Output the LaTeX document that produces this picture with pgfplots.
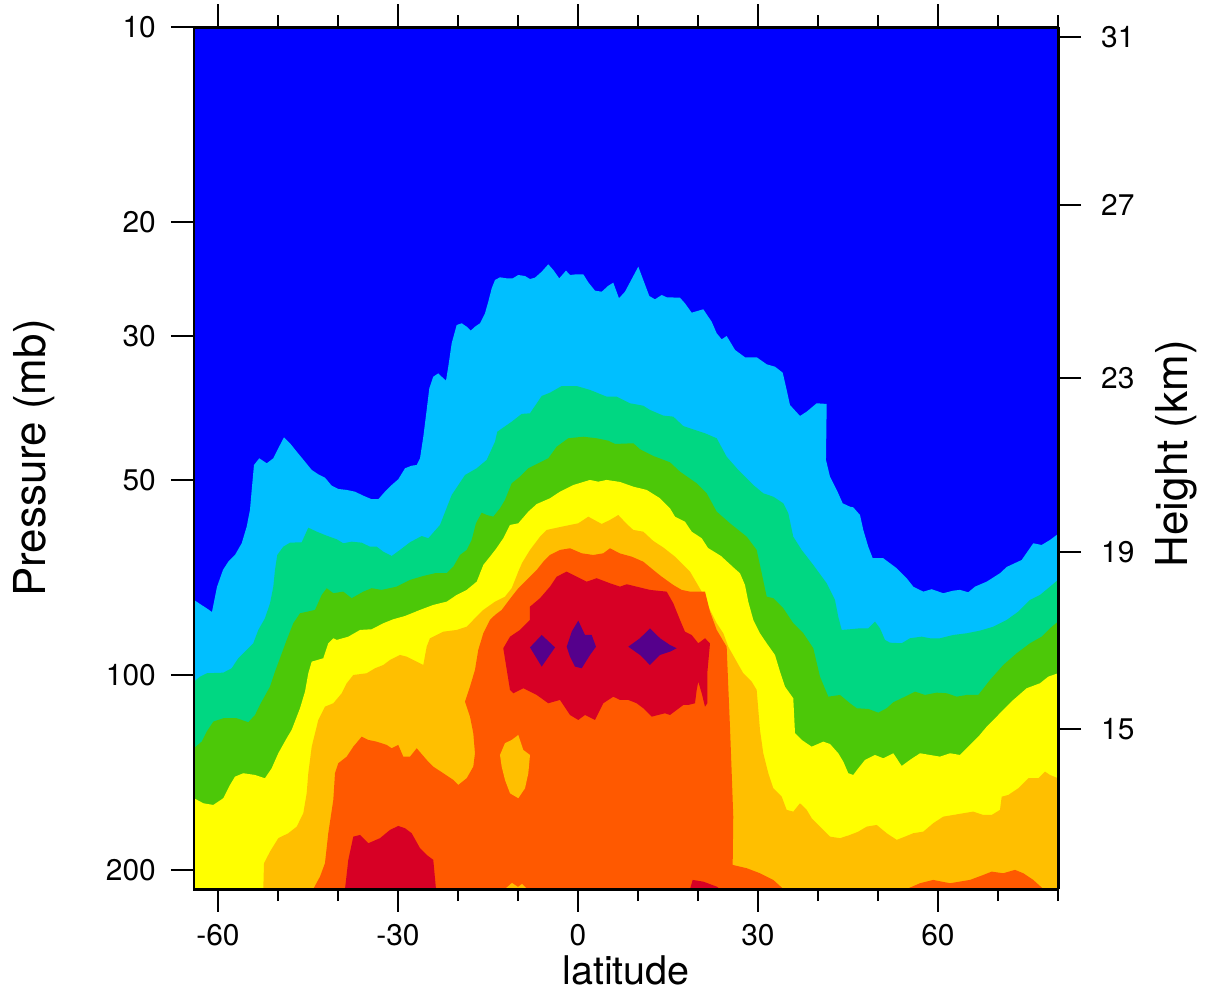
\documentclass[border=0pt]{standalone}
\usepackage{fontspec}
\setmainfont{TeX Gyre Heros}
\usepackage{pgfplots}
\pgfplotsset{compat=1.18}
\definecolor{cblue}{RGB}{0,0,255}
\definecolor{clblue}{RGB}{0,191,255}
\definecolor{cteal}{RGB}{0,215,130}
\definecolor{cgreen}{RGB}{76,200,8}
\definecolor{cyellow}{RGB}{255,255,0}
\definecolor{corange}{RGB}{255,191,0}
\definecolor{cored}{RGB}{255,89,0}
\definecolor{cred}{RGB}{215,0,37}
\definecolor{cpurple}{RGB}{85,0,140}
\begin{document}
\begin{tikzpicture}
\path[use as bounding box] (-3.88,-2.02) rectangle (20.38,17.78);
\begin{axis}[
  at={(0,0)}, anchor=south west, scale only axis,
  width=17.28cm, height=17.24cm,
  xmin=-64, xmax=80, ymode=log, ymin=10, ymax=214, y dir=reverse,
  tick align=outside, major tick length=0.46cm, minor tick length=0.24cm,
  tick style={black, line width=1.1pt},
  axis line style={line width=1.7pt},
  tick label style={font=\fontsize{17}{20}\selectfont},
  label style={font=\fontsize{25}{30}\selectfont},
  axis on top,
  xtick={-60,-30,0,30,60}, xticklabels={-60,-30,0,30,60},
  minor xtick={-50,-40,-20,-10,10,20,40,50,70,80},
  xtick pos=both,
  ytick={10,20,30,50,100,200}, yticklabels={10,20,30,50,100,200},
  minor ytick={}, ytick pos=left,
  yticklabel style={xshift=-0.18cm},
  xticklabel style={yshift=-0.12cm},
  xlabel={latitude}, ylabel={Pressure (mb)},
  xlabel style={at={(axis description cs:0.5,-0.1102)}, anchor=base, inner sep=0pt, font=\fontsize{22.5}{27}\selectfont},
  ylabel style={at={(axis description cs:-0.185,0.5)}, anchor=center},
]
% background
\addplot[fill=cblue, draw=none] coordinates {(-64,10)(80,10)(80,214)(-64,214)};
% light blue
\addplot[fill=clblue, draw=none] coordinates {(-64,76.61)(-62.0,78.82)(-61.0,79.95)(-60.17,73.16)(-59.17,68.86)(-58.28,66.87)(-57.17,65.30)(-56.05,62.64)(-55.22,59.05)(-54.67,55.64)(-54.38,51.82)(-54.0,47.42)(-53.12,46.31)(-51.88,47.14)(-50.78,46.31)(-49.95,44.69)(-49.0,42.98)(-48.0,43.90)(-46.88,45.23)(-45.5,46.87)(-44.38,48.27)(-43.28,49.02)(-42.17,49.61)(-41.05,51.04)(-39.95,51.64)(-38.55,51.82)(-37.17,52.14)(-35.78,52.89)(-34.38,53.56)(-33.28,53.56)(-32.17,52.14)(-31.05,50.92)(-29.95,49.89)(-28.83,47.98)(-27.72,47.54)(-26.88,47.42)(-26.33,46.31)(-25.78,42.89)(-25.22,39.00)(-24.78,36.11)(-24.12,34.65)(-23.28,34.24)(-22.72,34.65)(-22.0,35.14)(-21.62,33.44)(-21.05,30.77)(-20.22,28.84)(-19.38,28.66)(-18.55,29.01)(-17.88,29.42)(-17.17,29.01)(-16.33,28.66)(-15.5,27.66)(-14.95,26.54)(-14.38,25.31)(-13.83,24.57)(-13.0,24.34)(-11.88,24.43)(-10.88,24.43)(-9.95,24.14)(-8.83,24.23)(-8.0,24.49)(-7.17,24.37)(-6.05,23.86)(-4.95,23.24)(-4.12,23.71)(-3.12,24.43)(-2.0,23.77)(-1.33,24.14)(-0.22,24.08)(0.88,24.08)(1.72,24.78)(2.83,25.52)(3.95,25.62)(5.05,25.08)(5.88,24.81)(6.83,26.22)(7.83,25.62)(10.05,23.44)(10.88,24.57)(11.88,26.01)(12.83,26.32)(13.95,25.92)(14.78,26.13)(17.0,26.17)(17.83,26.70)(18.95,27.60)(20.88,27.27)(22.28,28.50)(23.12,29.70)(23.95,30.34)(24.78,29.99)(26.17,31.51)(27.83,32.34)(29.78,32.34)(31.45,33.16)(32.83,33.44)(34.12,34.16)(34.78,36.32)(35.33,38.32)(37.0,39.85)(38.12,39.24)(39.78,38.09)(41.45,38.18)(41.33,46.58)(42.0,49.44)(43.12,51.82)(44.12,54.34)(45.33,55.00)(45.88,55.12)(47.0,56.65)(47.55,59.74)(48.38,63.40)(49.12,66.06)(50.88,66.06)(53.12,68.45)(54.78,70.93)(55.88,73.08)(57.55,74.38)(58.95,73.75)(60.88,74.81)(62.55,74.12)(63.67,73.93)(65.05,74.55)(66.17,73.08)(68.12,71.79)(70.33,69.68)(71.45,68.14)(73.95,66.46)(75.88,62.64)(77.28,63.02)(78.67,61.90)(80,60.60)(80,214)(-64,214)};
% teal
\addplot[fill=cteal, draw=none] coordinates {(-64,102.42)(-63.0,100.62)(-61.88,99.41)(-59.12,99.20)(-57.72,97.66)(-56.62,94.25)(-55.5,92.06)(-54.12,89.36)(-53.28,85.23)(-52.17,81.76)(-51.33,77.52)(-50.78,73.08)(-50.5,68.86)(-50.12,65.30)(-49.12,63.40)(-48.0,62.50)(-46.05,62.41)(-44.95,59.26)(-43.55,60.10)(-41.88,60.97)(-40.22,61.75)(-39.12,62.64)(-37.72,62.28)(-36.05,62.50)(-34.67,63.40)(-33.55,63.40)(-32.45,64.53)(-31.05,65.53)(-29.67,64.14)(-28.0,62.41)(-26.05,61.04)(-24.95,61.53)(-23.0,58.69)(-21.05,52.76)(-18.83,49.14)(-16.88,47.98)(-15.22,46.58)(-13.83,43.65)(-13.45,42.13)(-11.05,40.66)(-9.38,39.56)(-8.0,39.47)(-6.05,37.11)(-4.67,36.68)(-2.72,35.82)(-0.22,35.82)(2.0,36.32)(4.78,37.20)(6.45,37.20)(8.67,38.09)(10.88,38.42)(12.0,39.00)(14.22,39.80)(15.88,39.94)(17.55,41.29)(18.67,41.62)(21.17,42.37)(23.12,43.13)(24.78,46.05)(26.72,48.27)(29.22,50.92)(30.88,52.44)(32.55,53.08)(34.22,54.34)(35.05,56.30)(35.88,61.19)(37.28,64.14)(39.22,67.66)(41.45,72.20)(42.83,76.61)(43.38,81.30)(43.95,85.23)(45.33,85.02)(47.0,84.73)(48.38,84.73)(49.5,82.75)(50.33,84.73)(51.17,88.31)(52.0,89.17)(53.95,89.36)(55.33,87.78)(57.28,87.29)(58.67,87.78)(60.33,87.78)(62.55,86.77)(64.78,86.24)(67.0,85.44)(69.22,84.25)(71.45,82.25)(73.38,79.87)(75.33,76.61)(77.0,75.27)(78.67,73.08)(80,71.35)(80,214)(-64,214)};
% green
\addplot[fill=cgreen, draw=none] coordinates {(-64,129.76)(-62.72,126.76)(-61.88,122.33)(-60.78,118.06)(-59.12,116.64)(-56.88,116.64)(-54.95,118.32)(-53.83,115.29)(-52.72,109.96)(-51.33,104.26)(-50.5,98.84)(-49.67,94.25)(-48.55,88.31)(-47.45,83.23)(-46.33,80.33)(-43.83,79.38)(-42.72,75.27)(-41.88,73.49)(-40.78,74.81)(-39.12,74.38)(-37.72,76.15)(-35.78,74.38)(-34.38,73.49)(-32.72,73.93)(-30.22,73.08)(-28.0,71.35)(-25.78,70.36)(-23.83,69.68)(-21.88,69.68)(-20.78,68.07)(-19.67,65.30)(-18.55,64.14)(-17.72,61.90)(-17.0,58.34)(-16.05,56.18)(-15.22,56.65)(-14.12,56.99)(-13.0,55.31)(-12.17,53.70)(-11.05,50.61)(-9.67,49.44)(-8.28,47.98)(-6.62,47.14)(-4.95,46.31)(-3.55,44.44)(-1.62,43.13)(0.88,42.89)(3.12,43.13)(5.05,43.50)(6.17,44.01)(9.22,43.90)(10.33,44.84)(12.55,45.93)(15.33,46.97)(17.0,48.56)(19.78,50.61)(21.45,52.44)(23.12,55.98)(25.33,58.34)(28.12,61.19)(29.78,64.14)(30.62,69.68)(31.45,75.72)(32.55,76.15)(34.22,78.91)(35.88,83.23)(37.55,86.24)(39.22,90.96)(40.33,100.62)(41.72,108.03)(43.67,107.38)(45.33,110.59)(46.45,112.57)(48.38,112.85)(50.05,114.35)(51.45,112.57)(52.55,110.20)(54.5,108.03)(56.17,106.13)(57.83,107.38)(59.78,106.51)(61.45,106.74)(63.12,108.03)(64.78,107.38)(66.72,107.38)(68.67,101.79)(70.88,96.53)(73.12,92.59)(75.33,89.36)(77.28,87.29)(78.67,84.73)(80,82.75)(80,214)(-64,214)};
% yellow
\addplot[fill=cyellow, draw=none] coordinates {(-64,154.99)(-62.45,157.78)(-60.78,158.74)(-59.12,154.99)(-58.0,147.85)(-57.17,143.55)(-55.78,141.82)(-53.83,142.69)(-52.17,144.36)(-51.05,139.32)(-49.95,132.10)(-48.55,125.23)(-47.72,121.58)(-46.33,112.57)(-45.5,106.13)(-44.95,99.41)(-44.38,95.39)(-42.45,94.25)(-41.62,89.36)(-40.78,87.78)(-40.22,88.31)(-38.28,87.29)(-36.33,85.23)(-34.38,85.02)(-32.45,83.23)(-30.78,82.05)(-28.83,81.10)(-26.33,79.38)(-24.12,77.99)(-21.88,77.08)(-20.22,75.27)(-18.55,73.93)(-16.88,71.79)(-15.78,67.66)(-14.67,65.69)(-13.67,63.91)(-12.45,61.53)(-11.33,58.69)(-9.95,58.34)(-8.28,55.98)(-6.88,54.48)(-4.67,53.38)(-3.0,52.14)(-0.78,50.92)(2.0,50.01)(3.38,50.32)(4.78,50.01)(7.0,50.37)(9.22,51.22)(11.45,51.82)(13.67,53.38)(15.33,55.31)(16.17,56.99)(17.83,58.00)(18.95,60.10)(20.62,61.53)(21.67,63.69)(23.83,65.53)(26.0,68.38)(27.0,69.68)(27.83,72.64)(28.38,77.08)(29.22,82.25)(30.33,86.24)(31.45,89.36)(32.83,93.15)(33.67,98.84)(34.5,104.26)(35.88,108.64)(36.17,123.03)(37.28,125.98)(38.95,129.04)(40.88,126.76)(42.0,127.80)(43.38,132.10)(44.22,136.09)(45.05,141.82)(45.88,142.69)(46.72,139.32)(47.83,135.26)(49.5,132.90)(50.88,134.46)(52.55,132.10)(53.95,138.19)(55.33,135.26)(57.0,132.10)(58.67,132.90)(60.33,133.70)(62.0,132.10)(63.67,132.90)(65.05,129.04)(66.72,124.53)(68.12,120.18)(70.33,114.59)(72.55,109.29)(74.78,104.85)(77.0,103.01)(78.38,100.62)(80,99.41)(80,214)(-64,214)};
% orange
\addplot[fill=corange, draw=none] coordinates {(-52.45,214)(-52.33,195.27)(-51.33,187.38)(-49.95,178.66)(-48.28,175.53)(-46.88,171.46)(-45.78,163.49)(-45.22,152.28)(-44.95,141.82)(-44.38,129.04)(-43.28,117.34)(-42.17,111.94)(-40.78,110.59)(-39.38,106.74)(-38.55,103.01)(-37.45,100.02)(-35.22,99.41)(-33.83,97.66)(-32.45,96.53)(-31.33,94.81)(-29.67,93.15)(-28.55,93.71)(-25.78,96.53)(-25.22,90.45)(-24.67,87.78)(-23.55,86.77)(-22.45,85.75)(-20.22,85.23)(-18.55,84.25)(-17.45,82.25)(-15.78,79.38)(-13.83,77.08)(-12.17,75.72)(-11.05,73.49)(-9.95,69.28)(-9.33,67.18)(-8.0,64.14)(-6.33,61.19)(-5.22,59.74)(-2.72,59.05)(0.05,58.34)(1.72,56.99)(3.95,58.48)(5.33,57.65)(6.72,56.65)(8.12,58.48)(9.22,59.74)(10.88,60.10)(12.55,62.12)(14.22,63.58)(16.17,65.69)(17.55,67.66)(18.67,69.28)(20.62,74.38)(21.17,74.81)(21.72,78.46)(23.12,83.23)(24.22,86.24)(25.05,90.45)(26.45,95.39)(27.55,99.41)(28.95,102.42)(29.78,105.48)(30.33,121.58)(30.88,132.10)(31.72,141.82)(32.55,149.59)(33.95,154.12)(34.78,161.56)(35.88,162.55)(37.0,157.78)(38.12,161.56)(38.95,166.41)(40.33,171.46)(42.0,177.66)(43.67,178.66)(45.33,176.60)(46.72,174.53)(48.12,171.46)(49.78,170.43)(51.45,175.53)(53.12,179.73)(54.5,177.66)(55.88,175.53)(57.55,174.53)(59.22,169.34)(60.88,165.48)(62.55,164.49)(64.22,163.49)(65.88,162.55)(67.55,164.49)(68.95,164.49)(70.33,161.56)(70.62,154.12)(71.72,153.20)(73.38,149.59)(75.05,144.36)(76.72,144.36)(77.83,141.01)(78.67,142.69)(80,144.36)(80,214)};
% orange-red
\addplot[fill=cored, draw=none] coordinates {(-44.12,214)(-43.0,204.80)(-42.17,195.27)(-41.62,175.53)(-40.78,155.92)(-40.5,141.82)(-39.95,136.87)(-38.55,133.70)(-37.45,129.04)(-36.05,124.53)(-34.95,125.98)(-33.55,126.76)(-31.88,128.26)(-31.05,129.76)(-29.95,128.26)(-29.12,133.70)(-28.0,133.70)(-26.88,129.76)(-25.22,135.26)(-24.12,138.54)(-22.45,141.82)(-20.78,145.22)(-19.95,147.85)(-18.55,144.36)(-17.45,138.54)(-17.17,132.10)(-17.45,123.03)(-18.0,115.94)(-18.83,109.96)(-18.0,104.26)(-17.17,98.24)(-16.62,91.50)(-15.78,86.24)(-14.67,82.25)(-13.83,80.82)(-12.72,79.38)(-11.05,75.72)(-9.95,73.49)(-8.55,71.35)(-6.88,68.86)(-5.78,66.87)(-4.67,65.30)(-3.0,64.14)(-1.33,63.76)(0.62,64.90)(2.55,65.30)(4.22,64.90)(5.33,63.76)(7.0,64.95)(8.95,65.69)(10.88,66.87)(12.55,68.86)(13.95,70.53)(15.88,72.64)(17.28,73.93)(18.67,74.38)(21.17,74.38)(22.0,79.87)(23.12,85.23)(24.78,90.45)(25.05,104.26)(25.33,120.18)(25.62,141.82)(25.88,165.48)(25.78,196.46)(28.12,198.76)(30.33,202.34)(32.55,207.19)(34.22,214)};
\addplot[fill=cored, draw=none] coordinates {(54.78,214)(57.0,209.66)(59.22,207.19)(62.0,209.66)(65.33,207.19)(67.55,203.57)(68.95,201.18)(70.88,202.34)(72.83,199.95)(74.22,202.34)(75.88,207.19)(77.55,214)};
% orange island and bits
\addplot[fill=corange, draw=none] coordinates {(-13.0,132.90)(-12.17,127.47)(-11.05,125.98)(-9.95,123.78)(-9.12,130.54)(-8.0,132.90)(-8.28,141.82)(-8.83,149.59)(-9.95,154.99)(-11.33,152.28)(-12.17,145.22)(-12.72,138.54)};
\addplot[fill=corange, draw=none] coordinates {(-12.17,214)(-11.0,209.44)(-10.0,212.43)(-9.33,210.19)(-8.5,214)};
% red
\addplot[fill=cred, draw=none] coordinates {(-38.83,214)(-38.28,192.97)(-37.45,177.66)(-36.33,176.60)(-34.95,181.88)(-33.0,178.66)(-31.33,173.46)(-29.95,171.04)(-28.83,172.42)(-27.72,175.53)(-26.33,185.13)(-25.22,189.6)(-24.12,192.97)(-23.67,214)};
\addplot[fill=cred, draw=none] coordinates {(-12.45,90.96)(-11.33,87.29)(-9.67,85.23)(-8.0,82.25)(-8.0,78.46)(-6.33,76.15)(-4.67,73.08)(-3.55,70.53)(-1.88,69.28)(-0.22,70.53)(1.45,71.79)(3.12,70.93)(5.33,72.20)(7.0,73.08)(8.12,72.46)(9.78,73.08)(12.0,73.93)(14.78,74.38)(15.88,77.52)(17.0,82.25)(17.83,85.75)(18.95,86.77)(20.05,89.36)(21.17,87.78)(22.0,89.36)(21.55,99.41)(21.55,110.59)(21.17,111.94)(20.62,106.74)(20.05,102.42)(19.78,105.48)(19.5,110.59)(18.38,111.27)(17.55,111.27)(16.45,113.24)(15.33,115.29)(14.5,114.59)(13.38,115.29)(12.28,115.99)(10.88,112.57)(9.78,110.59)(8.38,109.29)(7.0,109.29)(5.88,108.03)(4.22,110.59)(2.83,117.34)(1.17,115.29)(0.05,117.34)(-1.33,115.29)(-3.0,109.29)(-4.95,110.59)(-6.88,107.38)(-9.12,104.85)(-10.78,106.74)(-11.33,105.48)};
\addplot[fill=cred, draw=none] coordinates {(18.67,214)(19.12,207.19)(20.88,208.46)(23.12,212.21)(23.67,214)};
% purple
\addplot[fill=cpurple, draw=none] coordinates {(-8.0,90.68)(-6.05,86.77)(-3.83,90.68)(-6.05,97.09)};
\addplot[fill=cpurple, draw=none] coordinates {(-1.88,90.45)(-1.05,85.75)(0.05,82.45)(1.17,86.77)(2.28,86.77)(3.0,90.45)(2.0,93.15)(0.62,97.66)(-0.5,97.09)(-1.33,93.71)};
\addplot[fill=cpurple, draw=none] coordinates {(8.38,90.45)(10.33,87.78)(12.0,84.73)(13.67,87.78)(15.33,89.91)(16.45,90.96)(15.33,92.06)(13.67,93.15)(12.0,96.53)(10.33,93.15)};
\end{axis}
\begin{axis}[
  at={(0,0)}, anchor=south west, scale only axis,
  width=17.28cm, height=17.24cm,
  xmin=-64, xmax=80, ymode=log, ymin=10, ymax=214, y dir=reverse,
  tick align=outside, major tick length=0.46cm,
  tick style={black, line width=1.1pt},
  axis line style={line width=1.7pt},
  tick label style={font=\fontsize{17}{20}\selectfont},
  label style={font=\fontsize{25}{30}\selectfont},
  axis x line=none, axis y line*=right,
  ytick={10.362,18.82,34.80,64.60,121.2}, yticklabels={31,27,23,19,15},
  minor ytick={},
  yticklabel style={xshift=0.28cm},
  ylabel={Height (km)},
  ylabel style={at={(axis description cs:1.1372,0.505)}, anchor=center},
]
\end{axis}
\end{tikzpicture}
\end{document}
